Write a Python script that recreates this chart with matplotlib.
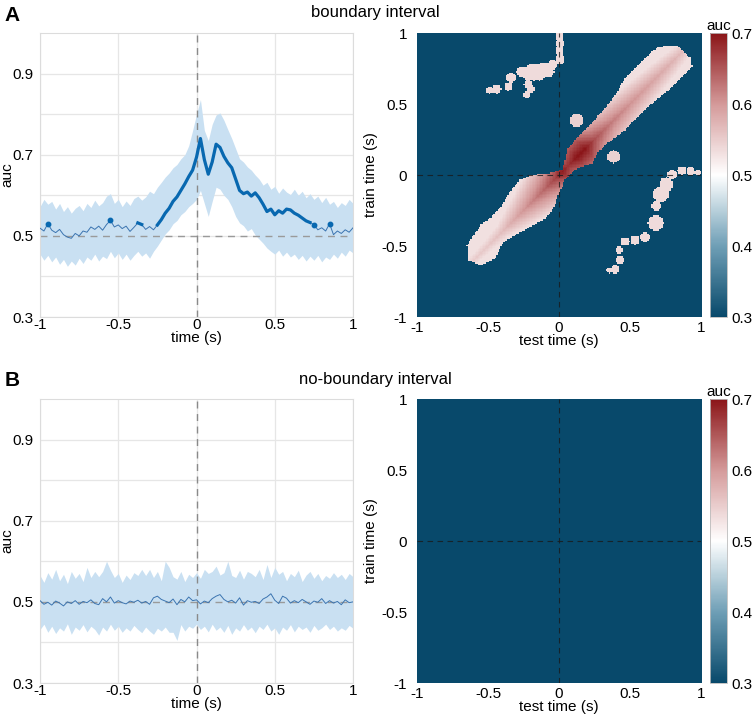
"""Temporal decoding (auc) for boundary vs no-boundary intervals."""

import matplotlib
matplotlib.use("Agg")
import matplotlib.pyplot as plt
import numpy as np
from matplotlib.colors import LinearSegmentedColormap
from matplotlib.path import Path

plt.rcParams["font.family"] = ["Liberation Sans", "DejaVu Sans"]

# ---- diagonal decoding, time axis (s) ----
times = np.round(np.arange(-1.0, 1.0001, 0.025), 3)

a_mean = [
    0.519, 0.512, 0.530, 0.514, 0.508, 0.516, 0.503, 0.497, 0.494, 0.506,
    0.500, 0.512, 0.509, 0.522, 0.516, 0.524, 0.514, 0.528, 0.538, 0.522,
    0.527, 0.518, 0.524, 0.511, 0.521, 0.532, 0.528, 0.516, 0.523, 0.515,
    0.527, 0.540, 0.556, 0.568, 0.585, 0.596, 0.612, 0.628, 0.646, 0.662,
    0.694, 0.740, 0.688, 0.652, 0.682, 0.726, 0.718, 0.696, 0.680, 0.668,
    0.640, 0.612, 0.604, 0.608, 0.598, 0.606, 0.594, 0.578, 0.560, 0.566,
    0.552, 0.562, 0.556, 0.566, 0.564, 0.556, 0.551, 0.544, 0.537, 0.533,
    0.528, 0.515, 0.520, 0.512, 0.530, 0.503, 0.512, 0.506, 0.515, 0.509,
    0.520,
]
a_upper = [
    0.572, 0.590, 0.578, 0.585, 0.566, 0.580, 0.560, 0.572, 0.556, 0.568,
    0.575, 0.562, 0.580, 0.570, 0.588, 0.574, 0.582, 0.598, 0.604, 0.580,
    0.590, 0.572, 0.586, 0.575, 0.592, 0.598, 0.588, 0.596, 0.610, 0.604,
    0.620, 0.632, 0.645, 0.655, 0.668, 0.676, 0.690, 0.700, 0.722, 0.760,
    0.800, 0.836, 0.760, 0.735, 0.775, 0.798, 0.803, 0.785, 0.762, 0.740,
    0.715, 0.690, 0.682, 0.670, 0.662, 0.650, 0.640, 0.625, 0.632, 0.615,
    0.622, 0.605, 0.618, 0.608, 0.602, 0.615, 0.600, 0.610, 0.594, 0.604,
    0.590, 0.598, 0.582, 0.595, 0.578, 0.585, 0.570, 0.582, 0.575, 0.590,
    0.580,
]
a_lower = [
    0.455, 0.440, 0.452, 0.436, 0.448, 0.430, 0.442, 0.425, 0.438, 0.428,
    0.445, 0.432, 0.448, 0.440, 0.455, 0.438, 0.450, 0.444, 0.462, 0.446,
    0.458, 0.442, 0.455, 0.440, 0.452, 0.462, 0.450, 0.458, 0.445, 0.462,
    0.475, 0.490, 0.505, 0.515, 0.530, 0.538, 0.552, 0.560, 0.572, 0.580,
    0.590, 0.612, 0.580, 0.548, 0.585, 0.620, 0.615, 0.600, 0.590, 0.572,
    0.548, 0.532, 0.525, 0.512, 0.518, 0.502, 0.492, 0.482, 0.470, 0.462,
    0.455, 0.465, 0.450, 0.460, 0.448, 0.455, 0.442, 0.452, 0.438, 0.450,
    0.440, 0.452, 0.436, 0.448, 0.442, 0.455, 0.445, 0.460, 0.450, 0.465,
    0.458,
]
# significant stretches (s)
a_sig_start = [-0.95, -0.55, -0.375, -0.25, 0.75, 0.85]
a_sig_end = [-0.95, -0.55, -0.35, 0.725, 0.75, 0.85]

b_mean = [
    0.503, 0.494, 0.499, 0.492, 0.502, 0.497, 0.490, 0.500, 0.496, 0.503,
    0.494, 0.501, 0.498, 0.505, 0.496, 0.493, 0.508, 0.500, 0.512, 0.497,
    0.503, 0.498, 0.495, 0.502, 0.499, 0.504, 0.497, 0.501, 0.494, 0.510,
    0.514, 0.506, 0.502, 0.498, 0.507, 0.493, 0.506, 0.500, 0.512, 0.503,
    0.505, 0.495, 0.502, 0.498, 0.508, 0.514, 0.518, 0.506, 0.500, 0.504,
    0.497, 0.510, 0.492, 0.503, 0.499, 0.501, 0.496, 0.507, 0.512, 0.520,
    0.504, 0.496, 0.514, 0.509, 0.497, 0.503, 0.498, 0.506, 0.500, 0.494,
    0.502, 0.499, 0.508, 0.496, 0.503, 0.497, 0.501, 0.493, 0.505, 0.498,
    0.500,
]
b_upper = [
    0.565, 0.548, 0.572, 0.556, 0.580, 0.552, 0.568, 0.545, 0.575, 0.558,
    0.570, 0.550, 0.585, 0.560, 0.575, 0.562, 0.575, 0.600, 0.578, 0.560,
    0.570, 0.548, 0.566, 0.555, 0.572, 0.565, 0.580, 0.565, 0.580, 0.560,
    0.575, 0.552, 0.600, 0.585, 0.562, 0.556, 0.575, 0.550, 0.568, 0.560,
    0.572, 0.558, 0.580, 0.570, 0.575, 0.588, 0.566, 0.572, 0.600, 0.565,
    0.560, 0.578, 0.556, 0.575, 0.570, 0.562, 0.580, 0.555, 0.592, 0.560,
    0.585, 0.568, 0.575, 0.552, 0.570, 0.562, 0.578, 0.550, 0.566, 0.575,
    0.558, 0.570, 0.552, 0.565, 0.558, 0.572, 0.560, 0.568, 0.555, 0.570,
    0.562,
]
b_lower = [
    0.432, 0.445, 0.425, 0.440, 0.422, 0.436, 0.428, 0.446, 0.420, 0.438,
    0.430, 0.444, 0.426, 0.440, 0.432, 0.418, 0.438, 0.428, 0.445, 0.430,
    0.440, 0.425, 0.436, 0.428, 0.442, 0.432, 0.424, 0.438, 0.428, 0.420,
    0.435, 0.428, 0.438, 0.425, 0.425, 0.405, 0.444, 0.428, 0.440, 0.435,
    0.445, 0.432, 0.440, 0.426, 0.445, 0.430, 0.438, 0.425, 0.442, 0.420,
    0.436, 0.428, 0.444, 0.430, 0.438, 0.424, 0.440, 0.432, 0.445, 0.428,
    0.436, 0.420, 0.438, 0.430, 0.444, 0.426, 0.440, 0.432, 0.438, 0.425,
    0.442, 0.430, 0.436, 0.445, 0.432, 0.440, 0.428, 0.436, 0.430, 0.442,
    0.435,
]

# ---- temporal generalisation, boundary interval ----
# outline of the significant diagonal cluster (test time, train time)
band_test = [-0.55, -0.45, -0.40, -0.30, -0.21, -0.10, -0.05, -0.01, 0.04,
             0.11, 0.23, 0.28, 0.34, 0.46, 0.54, 0.64, 0.76, 0.88, 0.93,
             0.92, 0.84, 0.76, 0.68, 0.62, 0.53, 0.45, 0.40, 0.30, 0.16, 0.06, 0.025,
             -0.06, -0.20, -0.28, -0.33, -0.41, -0.48, -0.55, -0.65, -0.64]
band_train = [-0.64, -0.59, -0.48, -0.42, -0.37, -0.31, -0.25, -0.15, -0.035,
              0.035, 0.08, 0.17, 0.22, 0.31, 0.40, 0.49, 0.59, 0.70, 0.76,
              0.82, 0.90, 0.91, 0.89, 0.83, 0.74, 0.66, 0.57, 0.44, 0.30, 0.18, 0.04,
              0.01, -0.005, -0.04, -0.10, -0.22, -0.30, -0.35, -0.50, -0.60]
# auc along the diagonal (position = mean of test and train time)
diag_pos = [-0.62, -0.5, -0.4, -0.3, -0.2, -0.1, -0.03, 0.02, 0.06, 0.12, 0.18,
            0.25, 0.35, 0.5, 0.65, 0.8, 0.9]
diag_auc = [0.55, 0.555, 0.565, 0.59, 0.615, 0.64, 0.665, 0.695, 0.675, 0.70, 0.70,
            0.655, 0.625, 0.605, 0.59, 0.575, 0.56]
# small off-diagonal clusters (centre test, centre train, radius)
isl_test = [0.0, 0.005, 0.0, 0.005, -0.05, -0.11, -0.18, -0.26, -0.34, -0.36, -0.22,
            -0.23, -0.44, -0.49, -0.08, -0.14, -0.22, -0.20,
            0.12, 0.38,
            0.86, 0.92, 0.97, 0.79, 0.75, 0.71, 0.68, 0.675, 0.60, 0.53, 0.46,
            0.42, 0.425, 0.39, 0.35]
isl_train = [0.97, 0.92, 0.87, 0.81, 0.77, 0.74, 0.72, 0.72, 0.68, 0.62, 0.63, 0.56,
             0.60, 0.595, 0.72, 0.70, 0.69, 0.60,
             0.38, 0.125,
             0.03, 0.025, 0.015, 0.0, -0.07, -0.14, -0.22, -0.34, -0.44, -0.46,
             -0.47, -0.53, -0.60, -0.665, -0.67]
isl_radius = [0.03, 0.03, 0.03, 0.035, 0.035, 0.045, 0.06, 0.04, 0.035, 0.03, 0.03,
              0.025, 0.03, 0.025, 0.04, 0.04, 0.035, 0.025,
              0.045, 0.045,
              0.03, 0.03, 0.025, 0.035, 0.05, 0.055, 0.035, 0.055, 0.035, 0.03,
              0.03, 0.028, 0.028, 0.03, 0.02]
isl_auc = [0.535] * 18 + [0.545, 0.545] + [0.535] * 15

LINE_BLUE = "#0868b0"
THIN_BLUE = "#3b74b0"
BAND_BLUE = "#c9e0f2"
GRID = "#e6e6e6"
FS = 11

cmap = LinearSegmentedColormap.from_list(
    "auc", ["#08496b", "#6f9fb6", "#ffffff", "#d49a9a", "#8b1518"])


def generalisation_matrix(significant: bool) -> np.ndarray:
    grid = np.linspace(-1.0, 1.0, 201)
    te, tr = np.meshgrid(grid, grid)
    matrix = np.full(te.shape, 0.3)
    if not significant:
        return matrix
    pts = np.column_stack([te.ravel(), tr.ravel()])
    band = Path(np.column_stack([band_test, band_train])).contains_points(pts).reshape(te.shape)
    pos = (te + tr) / 2
    dist = np.abs(tr - te) / np.sqrt(2)
    val = np.clip(np.interp(pos, diag_pos, diag_auc) - 0.6 * dist, 0.53, None)
    matrix[band] = val[band]
    for x0, y0, r, v in zip(isl_test, isl_train, isl_radius, isl_auc):
        inside = np.hypot(te - x0, tr - y0) <= r
        matrix[inside & ~band] = v
    return matrix


def draw_line_panel(ax, mean, upper, lower, sig_start, sig_end):
    ax.fill_between(times, lower, upper, color=BAND_BLUE, lw=0, zorder=1)
    ax.plot(times, mean, color=THIN_BLUE, lw=0.7, zorder=3)
    mean = np.asarray(mean)
    for start, end in zip(sig_start, sig_end):
        mask = (times >= start - 1e-9) & (times <= end + 1e-9)
        if mask.sum() == 1:
            ax.plot(times[mask], mean[mask], "o", color=LINE_BLUE, ms=3.2, zorder=4)
        else:
            ax.plot(times[mask], mean[mask], color=LINE_BLUE, lw=2.3, zorder=4)
    ax.axhline(0.5, color="#9a9a9a", lw=1.0, ls=(0, (5, 4)), zorder=2)
    ax.axvline(0.0, color="#8a8a8a", lw=1.0, ls=(0, (5, 4)), zorder=2)
    ax.set_xlim(-1, 1)
    ax.set_ylim(0.3, 1.0)
    ax.set_xticks([-1, -0.5, 0, 0.5, 1])
    ax.set_xticklabels(["-1", "-0.5", "0", "0.5", "1"])
    ax.set_yticks(np.round(np.arange(0.3, 1.0, 0.1), 1))
    ax.set_yticklabels(["0.3", "", "0.5", "", "0.7", "", "0.9"])
    ax.grid(True, color=GRID, lw=0.9, zorder=0)
    ax.set_axisbelow(True)
    ax.tick_params(length=0, labelsize=FS, pad=1)
    ax.tick_params(axis="y", pad=5)
    for spine in ax.spines.values():
        spine.set_color("#dcdcdc")
    ax.set_xlabel("time (s)", fontsize=FS, labelpad=-1)
    ax.set_ylabel("auc", fontsize=FS)
    ax.yaxis.set_label_coords(-0.083, 0.5)


def draw_matrix_panel(fig, ax, cax, matrix):
    im = ax.imshow(matrix, origin="lower", extent=[-1.005, 1.005, -1.005, 1.005],
                   cmap=cmap, vmin=0.3, vmax=0.7, interpolation="nearest", aspect="auto")
    ax.axhline(0.0, color="#1a1a1a", lw=0.8, ls=(0, (5, 4)), alpha=0.8)
    ax.axvline(0.0, color="#1a1a1a", lw=0.8, ls=(0, (5, 4)), alpha=0.8)
    ax.set_xlim(-1, 1)
    ax.set_ylim(-1, 1)
    ax.set_xticks([-1, -0.5, 0, 0.5, 1])
    ax.set_xticklabels(["-1", "-0.5", "0", "0.5", "1"])
    ax.set_yticks([-1, -0.5, 0, 0.5, 1])
    ax.set_yticklabels(["-1", "-0.5", "0", "0.5", "1"])
    ax.tick_params(length=0, labelsize=FS, pad=3)
    ax.tick_params(axis="y", pad=7)
    for spine in ax.spines.values():
        spine.set_visible(False)
    ax.set_xlabel("test time (s)", fontsize=FS, labelpad=-1)
    ax.set_ylabel("train time (s)", fontsize=FS, labelpad=2)
    cb = fig.colorbar(im, cax=cax, ticks=[0.3, 0.4, 0.5, 0.6, 0.7])
    cb.ax.set_yticklabels(["0.3", "0.4", "0.5", "0.6", "0.7"])
    cb.ax.tick_params(length=0, labelsize=FS, pad=3)
    cb.outline.set_edgecolor("#bbbbbb")
    cb.outline.set_linewidth(0.6)
    cax.set_title("auc", fontsize=FS, pad=1)


fig = plt.figure(figsize=(7.55, 7.21), dpi=100)

rows = [(0.5603, a_mean, a_upper, a_lower, a_sig_start, a_sig_end, True),
        (0.0527, b_mean, b_upper, b_lower, [], [], False)]
for bottom, mean, upper, lower, s0, s1, sig in rows:
    ax_line = fig.add_axes([0.053, bottom, 0.4146, 0.3939])
    draw_line_panel(ax_line, mean, upper, lower, s0, s1)
    ax_mat = fig.add_axes([0.5523, bottom, 0.3762, 0.3939])
    cax = fig.add_axes([0.9404, bottom, 0.0225, 0.3939])
    draw_matrix_panel(fig, ax_mat, cax, generalisation_matrix(sig))

fig.text(0.497, 0.983, "boundary interval", ha="center", va="center", fontsize=12)
fig.text(0.497, 0.474, "no-boundary interval", ha="center", va="center", fontsize=12)
fig.text(0.006, 0.992, "A", ha="left", va="top", fontsize=15, fontweight="bold")
fig.text(0.006, 0.486, "B", ha="left", va="top", fontsize=15, fontweight="bold")

fig.savefig("out.png", dpi=100)
